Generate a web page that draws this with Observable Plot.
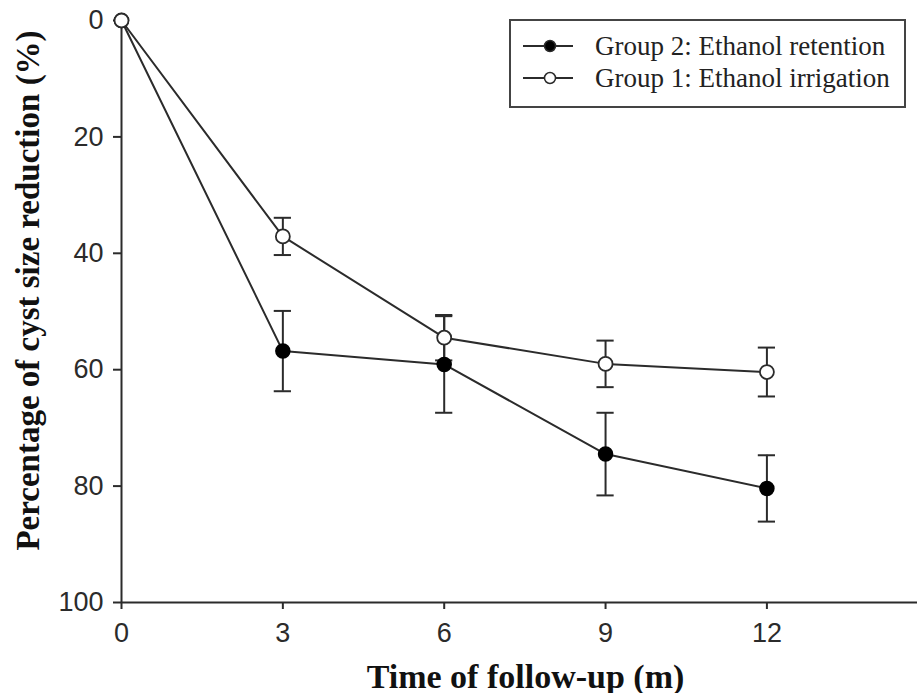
<!DOCTYPE html>
<html>
<head>
<meta charset="utf-8">
<script src="https://cdn.jsdelivr.net/npm/d3@7"></script>
<script src="https://cdn.jsdelivr.net/npm/@observablehq/plot@0.6"></script>
<style>
  html, body { margin: 0; padding: 0; background: #fff; }
  #wrap { position: relative; width: 917px; height: 693px; }
  #legend { position: absolute; left: 509px; top: 19px; }
</style>
</head>
<body>
<div id="wrap"></div>
<script>
// ---- data ----
const months = [0, 3, 6, 9, 12];
const seriesNames = ["Group 2: Ethanol retention", "Group 1: Ethanol irrigation"];
const retentionMean = [0, 56.8, 59.1, 74.5, 80.4];
const retentionErr  = [0, 6.9, 8.3, 7.1, 5.7];
const irrigationMean = [0, 37.1, 54.5, 59.0, 60.4];
const irrigationErr  = [0, 3.2, 3.9, 4.0, 4.2];
const xTicks = [0, 3, 6, 9, 12];
const yTicks = [0, 20, 40, 60, 80, 100];
const xTitle = "Time of follow-up (m)";
const yTitle = "Percentage of cyst size reduction (%)";

const rows = [];
months.forEach((m, i) => {
  rows.push({group: seriesNames[0], month: m, mean: retentionMean[i], err: retentionErr[i]});
});
months.forEach((m, i) => {
  rows.push({group: seriesNames[1], month: m, mean: irrigationMean[i], err: irrigationErr[i]});
});
const withErr = rows.filter(d => d.err > 0);
const ret = rows.filter(d => d.group === seriesNames[0]);
const irr = rows.filter(d => d.group === seriesNames[1]);

const ink = "#2b2b2b";
const capHalf = 0.16;
const xMax = 14.8;

const chart = Plot.plot({
  width: 917,
  height: 693,
  marginLeft: 121,
  marginRight: 0,
  marginTop: 20,
  marginBottom: 91,
  style: {color: ink, background: "#fff", overflow: "visible"},
  x: {domain: [0, xMax]},
  y: {domain: [0, 100], reverse: true},
  marks: [
    Plot.axisY({ticks: yTicks, tickSize: 8, tickPadding: 10, fontSize: 27, fontFamily: "Liberation Sans", label: null, strokeWidth: 2}),
    Plot.axisX({ticks: xTicks, tickSize: 7, tickPadding: 13, fontSize: 27, fontFamily: "Liberation Sans", label: null, strokeWidth: 2}),
    Plot.ruleX([0], {y1: 0, y2: 100, stroke: ink, strokeWidth: 2}),
    Plot.ruleY([100], {x1: 0, x2: xMax, stroke: ink, strokeWidth: 2}),
    Plot.line(ret, {x: "month", y: "mean", stroke: ink, strokeWidth: 2}),
    Plot.line(irr, {x: "month", y: "mean", stroke: ink, strokeWidth: 2}),
    Plot.ruleX(withErr, {x: "month", y1: d => d.mean - d.err, y2: d => d.mean + d.err, stroke: ink, strokeWidth: 2}),
    Plot.ruleY(withErr, {y: d => d.mean - d.err, x1: d => d.month - capHalf, x2: d => d.month + capHalf, stroke: ink, strokeWidth: 2}),
    Plot.ruleY(withErr, {y: d => d.mean + d.err, x1: d => d.month - capHalf, x2: d => d.month + capHalf, stroke: ink, strokeWidth: 2}),
    Plot.dot(ret, {x: "month", y: "mean", r: 7, fill: "#000", stroke: "#000", strokeWidth: 1.5}),
    Plot.dot(irr, {x: "month", y: "mean", r: 7, fill: "#fff", stroke: ink, strokeWidth: 1.8}),
    Plot.text([yTitle], {frameAnchor: "left", textAnchor: "middle", lineAnchor: "middle", dx: -93, dy: -21, rotate: -90, fontSize: 33, fontWeight: "bold", fontFamily: "Liberation Serif", fill: "#111"}),
    Plot.text([xTitle], {frameAnchor: "bottom", textAnchor: "middle", lineAnchor: "bottom", dy: 85, dx: 6, fontSize: 34, fontWeight: "bold", fontFamily: "Liberation Serif", fill: "#111"})
  ]
});

const wrap = document.getElementById("wrap");
wrap.appendChild(chart);

// ---- legend ----
const lw = 397, lh = 89;
const leg = d3.create("svg").attr("id", "legend").attr("width", lw).attr("height", lh);
leg.append("rect").attr("x", 1).attr("y", 1).attr("width", lw - 2).attr("height", lh - 2)
  .attr("fill", "#fff").attr("stroke", "#444").attr("stroke-width", 2);
const items = [
  {name: seriesNames[0], fill: "#000"},
  {name: seriesNames[1], fill: "#fff"}
];
items.forEach((it, i) => {
  const cy = 27 + i * 32;
  leg.append("line").attr("x1", 14).attr("x2", 64).attr("y1", cy).attr("y2", cy)
    .attr("stroke", ink).attr("stroke-width", 2);
  leg.append("circle").attr("cx", 41).attr("cy", cy).attr("r", 5.5)
    .attr("fill", it.fill).attr("stroke", ink).attr("stroke-width", 1.5);
  leg.append("text").attr("x", 86).attr("y", cy).attr("dy", "0.35em")
    .attr("font-family", "Liberation Serif").attr("font-size", 27).attr("fill", "#222")
    .text(it.name);
});
wrap.appendChild(leg.node());
</script>
</body>
</html>
